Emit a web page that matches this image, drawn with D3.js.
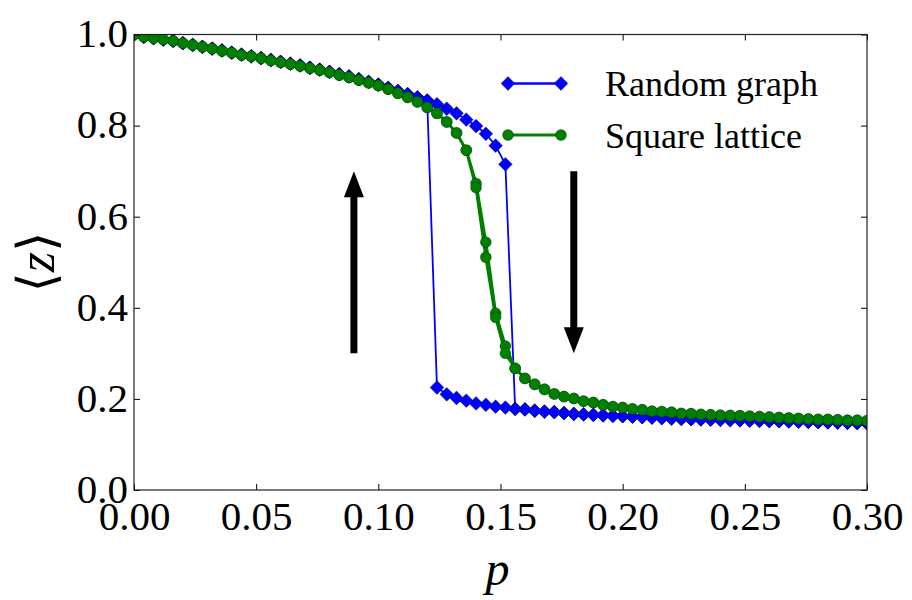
<!DOCTYPE html>
<html>
<head>
<meta charset="utf-8">
<script src="https://cdn.jsdelivr.net/npm/d3@7"></script>
<style>
  body { margin: 0; background: #fff; }
  text { font-family: "Liberation Serif", "DejaVu Serif", serif; fill: #000; }
</style>
</head>
<body>
<svg id="chart" width="912" height="600"></svg>
<script>
// Sampling grid of the rewiring probability p (step 0.004, 0 .. 0.3)
const pGrid = d3.range(76).map(i => +(i * 0.004).toFixed(3));

// Random graph: high-z branch for p = 0 .. 0.152
const randomUpper = [
  1.000, 0.995, 0.992, 0.989, 0.986, 0.981, 0.977, 0.973, 0.969, 0.965,
  0.960, 0.956, 0.952, 0.948, 0.944, 0.940, 0.936, 0.932, 0.927, 0.923,
  0.918, 0.913, 0.908, 0.902, 0.896, 0.890, 0.883, 0.876, 0.869, 0.862,
  0.855, 0.847, 0.837, 0.827, 0.813, 0.799, 0.782, 0.756, 0.715
];
// Random graph: low-z branch for p = 0.124 .. 0.300
const randomLower = [
  0.225, 0.210, 0.202, 0.196, 0.190, 0.187, 0.183, 0.181, 0.178, 0.177,
  0.174, 0.172, 0.171, 0.169, 0.167, 0.166, 0.165, 0.164, 0.163, 0.162,
  0.161, 0.160, 0.159, 0.158, 0.157, 0.156, 0.1555, 0.155, 0.1545, 0.154,
  0.1535, 0.153, 0.1525, 0.152, 0.1515, 0.151, 0.1505, 0.150, 0.1495, 0.149,
  0.1485, 0.148, 0.1475, 0.147, 0.1465
];
const randomLowerStart = 31; // index of p = 0.124 in pGrid

// Square lattice: increasing-p sweep and decreasing-p sweep (on the grid)
const latticeForward = [
  1.000, 0.995, 0.992, 0.989, 0.986, 0.981, 0.977, 0.973, 0.969, 0.964,
  0.960, 0.955, 0.952, 0.948, 0.943, 0.939, 0.935, 0.931, 0.926, 0.922,
  0.917, 0.911, 0.906, 0.900, 0.894, 0.888, 0.880, 0.871, 0.862, 0.852,
  0.840, 0.827, 0.808, 0.784, 0.746, 0.673, 0.544, 0.388, 0.316, 0.267,
  0.245, 0.232, 0.221, 0.211, 0.205, 0.201, 0.195, 0.192, 0.187, 0.183,
  0.181, 0.178, 0.176, 0.173, 0.172, 0.1705, 0.168, 0.1675, 0.166, 0.165,
  0.164, 0.1635, 0.163, 0.162, 0.161, 0.160, 0.159, 0.158, 0.157, 0.156,
  0.155, 0.155, 0.154, 0.153, 0.153, 0.152
];
const latticeBackward = [
  1.000, 0.995, 0.992, 0.989, 0.986, 0.981, 0.977, 0.973, 0.969, 0.964,
  0.960, 0.955, 0.952, 0.948, 0.943, 0.939, 0.935, 0.931, 0.926, 0.922,
  0.917, 0.911, 0.906, 0.900, 0.894, 0.888, 0.880, 0.871, 0.862, 0.852,
  0.840, 0.827, 0.808, 0.784, 0.746, 0.664, 0.511, 0.379, 0.300, 0.267,
  0.245, 0.232, 0.221, 0.211, 0.205, 0.201, 0.195, 0.192, 0.187, 0.183,
  0.181, 0.178, 0.176, 0.173, 0.172, 0.1705, 0.168, 0.1675, 0.166, 0.165,
  0.164, 0.1635, 0.163, 0.162, 0.161, 0.160, 0.159, 0.158, 0.157, 0.156,
  0.155, 0.155, 0.154, 0.153, 0.153, 0.152
];

const xTicks = [0, 0.05, 0.10, 0.15, 0.20, 0.25, 0.30];
const yTicks = [0, 0.2, 0.4, 0.6, 0.8, 1.0];
const seriesNames = ["Random graph", "Square lattice"];
const seriesColors = ["#0000ff", "#008000"];

// Sweep-direction arrows: [p, z at tail, z at head]
const arrowSpecs = [
  [0.09, 0.30, 0.70],
  [0.18, 0.70, 0.30]
];

const svg = d3.select("#chart");
const plot = { left: 134, right: 867, top: 34.5, bottom: 490 };

const x = d3.scaleLinear().domain([0, 0.3]).range([plot.left, plot.right]);
const y = d3.scaleLinear().domain([0, 1]).range([plot.bottom, plot.top]);

// Hysteresis loop of the random graph: up the high branch, then back along the low one
const randomLoop = [];
for (let i = 0; i < pGrid.length; i++) {
  const z = i < randomUpper.length ? randomUpper[i] : randomLower[i - randomLowerStart];
  randomLoop.push([pGrid[i], z]);
}
for (let i = pGrid.length - 1; i >= 0; i--) {
  const z = i >= randomLowerStart ? randomLower[i - randomLowerStart] : randomUpper[i];
  randomLoop.push([pGrid[i], z]);
}
const latticeLoop = [];
for (let i = 0; i < pGrid.length; i++) latticeLoop.push([pGrid[i], latticeForward[i]]);
for (let i = pGrid.length - 1; i >= 0; i--) latticeLoop.push([pGrid[i], latticeBackward[i]]);

svg.append("defs").append("clipPath").attr("id", "plotClip")
  .append("rect")
  .attr("x", plot.left).attr("y", plot.top)
  .attr("width", plot.right - plot.left).attr("height", plot.bottom - plot.top);

const area = svg.append("g").attr("clip-path", "url(#plotClip)");
const line = d3.line().x(d => x(d[0])).y(d => y(d[1]));

// Diamond marker: a square turned by 45 degrees
const diamond = d3.symbol().type(d3.symbolSquare).size(95)();

function addMarker(g, cx, cy, color, kind) {
  if (kind === "diamond") {
    g.append("path")
      .attr("d", diamond)
      .attr("transform", `translate(${cx},${cy}) rotate(45)`)
      .attr("fill", color)
      .attr("stroke", "#000").attr("stroke-opacity", 0.55).attr("stroke-width", 0.6);
  } else {
    g.append("circle")
      .attr("cx", cx).attr("cy", cy).attr("r", 5.5)
      .attr("fill", color)
      .attr("stroke", "#000").attr("stroke-opacity", 0.45).attr("stroke-width", 0.6);
  }
}

function drawSeries(g, pts, color, width, kind) {
  g.append("path").datum(pts)
    .attr("d", line)
    .attr("fill", "none")
    .attr("stroke", color)
    .attr("stroke-width", width)
    .attr("stroke-linejoin", "round");
  const m = g.append("g");
  pts.forEach(d => addMarker(m, x(d[0]), y(d[1]), color, kind));
}

drawSeries(area.append("g"), randomLoop, seriesColors[0], 1.8, "diamond");
drawSeries(area.append("g"), latticeLoop, seriesColors[1], 3, "circle");

// Arrows indicating sweep direction
const arrowG = svg.append("g");
arrowSpecs.forEach(([p, z0, z1]) => {
  const cx = x(p), yTail = y(z0), yTip = y(z1);
  const dir = yTip < yTail ? -1 : 1;
  const headLen = 26, headHalf = 10, shaftHalf = 3.5;
  const yBase = yTip - dir * headLen;
  const pts = [
    [cx - shaftHalf, yTail], [cx - shaftHalf, yBase], [cx - headHalf, yBase],
    [cx, yTip], [cx + headHalf, yBase], [cx + shaftHalf, yBase], [cx + shaftHalf, yTail]
  ];
  arrowG.append("path").attr("d", "M" + pts.map(q => q.join(",")).join("L") + "Z")
    .attr("fill", "#000");
});

// Axes with inward ticks on all four sides
const tickFont = 41;
const axB = svg.append("g").attr("transform", `translate(0,${plot.bottom})`)
  .call(d3.axisBottom(x).tickValues(xTicks).tickFormat(d3.format(".2f"))
    .tickSizeInner(-6).tickSizeOuter(0).tickPadding(11));
const axT = svg.append("g").attr("transform", `translate(0,${plot.top})`)
  .call(d3.axisTop(x).tickValues(xTicks).tickFormat("").tickSizeInner(-6).tickSizeOuter(0));
const axL = svg.append("g").attr("transform", `translate(${plot.left},0)`)
  .call(d3.axisLeft(y).tickValues(yTicks).tickFormat(d3.format(".1f"))
    .tickSizeInner(-6).tickSizeOuter(0).tickPadding(6));
const axR = svg.append("g").attr("transform", `translate(${plot.right},0)`)
  .call(d3.axisRight(y).tickValues(yTicks).tickFormat("").tickSizeInner(-6).tickSizeOuter(0));

[axB, axT, axL, axR].forEach(a => {
  a.select(".domain").remove();
  a.selectAll(".tick line").attr("stroke", "#000").attr("stroke-width", 1);
  a.selectAll("text").style("font-family", '"Liberation Serif", serif')
    .attr("font-size", tickFont).attr("fill", "#000");
});
axB.selectAll("text").attr("dy", "0.71em");
axL.selectAll("text").attr("dy", "0.30em");

svg.append("rect")
  .attr("x", plot.left).attr("y", plot.top)
  .attr("width", plot.right - plot.left).attr("height", plot.bottom - plot.top)
  .attr("fill", "none").attr("stroke", "#222").attr("stroke-width", 1.2);

// Axis titles
svg.append("text")
  .attr("x", (plot.left + plot.right) / 2 - 3).attr("y", 585)
  .attr("text-anchor", "middle")
  .attr("font-size", 48).attr("font-style", "italic")
  .text("p");

const yTitle = svg.append("text")
  .attr("transform", `translate(54,262) rotate(-90)`)
  .attr("text-anchor", "middle")
  .attr("font-size", 52);
yTitle.append("tspan").text("\u27E8");
yTitle.append("tspan").attr("font-style", "italic").text("z");
yTitle.append("tspan").text("\u27E9");

// Legend
const legend = svg.append("g");
const legendRows = [83.5, 135];
const legendKinds = ["diamond", "circle"];
seriesNames.forEach((name, i) => {
  const ly = legendRows[i];
  legend.append("line")
    .attr("x1", 508).attr("x2", 561).attr("y1", ly).attr("y2", ly)
    .attr("stroke", seriesColors[i]).attr("stroke-width", i === 0 ? 2.4 : 3);
  [508, 561].forEach(lx => addMarker(legend, lx, ly, seriesColors[i], legendKinds[i]));
  legend.append("text")
    .attr("x", 605).attr("y", ly + 12.5)
    .attr("font-size", 36)
    .text(name);
});
</script>
</body>
</html>
